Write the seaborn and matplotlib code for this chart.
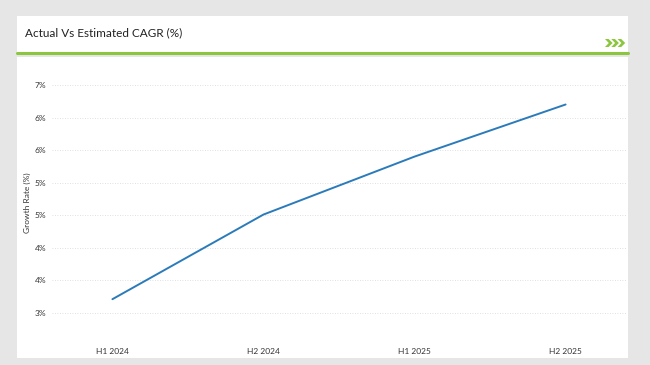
import matplotlib
matplotlib.use("Agg")
import matplotlib.pyplot as plt
import seaborn as sns
import pandas as pd
from matplotlib.patches import Rectangle, Polygon
from matplotlib.lines import Line2D

periods = ["H1 2024", "H2 2024", "H1 2025", "H2 2025"]
growth = [3.21, 4.51, 5.40, 6.20]
ytick_vals = [3.0, 3.5, 4.0, 4.5, 5.0, 5.5, 6.0, 6.5]
ytick_labels = ["3%", "4%", "4%", "5%", "5%", "6%", "6%", "7%"]

df = pd.DataFrame({"Period": periods, "Growth": growth})

sns.set_theme(style="white")
plt.rcParams["font.family"] = ["Lato", "DejaVu Sans"]

W, H = 650, 365
fig = plt.figure(figsize=(W / 100, H / 100), dpi=100)
fig.patch.set_facecolor("#e6e6e6")

def rect(x, y, w, h):
    return Rectangle((x / W, 1 - (y + h) / H), w / W, h / H, transform=fig.transFigure,
                     facecolor="white", edgecolor="none", zorder=-10)

fig.patches.append(rect(17, 16, 611, 37))
fig.patches.append(rect(17, 57, 611, 301))
fig.lines.append(Line2D([17 / W, 628 / W], [1 - 52.5 / H, 1 - 52.5 / H], transform=fig.transFigure,
                        color="#8cc63f", linewidth=2.2, zorder=-5))
fig.text(25 / W, 1 - 33 / H, "Actual Vs Estimated CAGR (%)", fontsize=8.5, color="#222222",
         va="center", ha="left")

# decorative chevrons
chev = [(0, 0), (3.6, 0), (7.6, 4), (3.6, 8), (0, 8), (3.8, 4)]
for x0 in (605, 611.3, 617.6):
    pts = [((x0 + dx) / W, 1 - (39 + dy) / H) for dx, dy in chev]
    fig.patches.append(Polygon(pts, closed=True, transform=fig.transFigure,
                               facecolor="#8cc63f", edgecolor="none", zorder=-4))

ax = fig.add_axes([52 / W, 1 - 335 / H, 574 / W, 265 / H])
ax.set_facecolor("none")
ax.set_zorder(5)
sns.lineplot(data=df, x="Period", y="Growth", ax=ax, color="#2b7bba", linewidth=1.4, sort=False)

ax.set_xlim(-0.40, 3.40)
ax.set_ylim(2.66, 6.73)
ax.set_yticks(ytick_vals)
ax.set_yticklabels(ytick_labels)
ax.tick_params(axis="both", labelsize=6, colors="#333333", length=0)
ax.tick_params(axis="x", pad=9)
ax.tick_params(axis="y", pad=4)
ax.yaxis.grid(True, linestyle=(0, (1, 2)), color="#d6d6d6", linewidth=0.6)
ax.xaxis.grid(False)
for s in ax.spines.values():
    s.set_visible(False)
ax.set_xlabel("")
ax.set_ylabel("Growth Rate (%)", fontsize=6, color="#333333", labelpad=3)

fig.savefig("out.png", dpi=100, facecolor=fig.get_facecolor())
